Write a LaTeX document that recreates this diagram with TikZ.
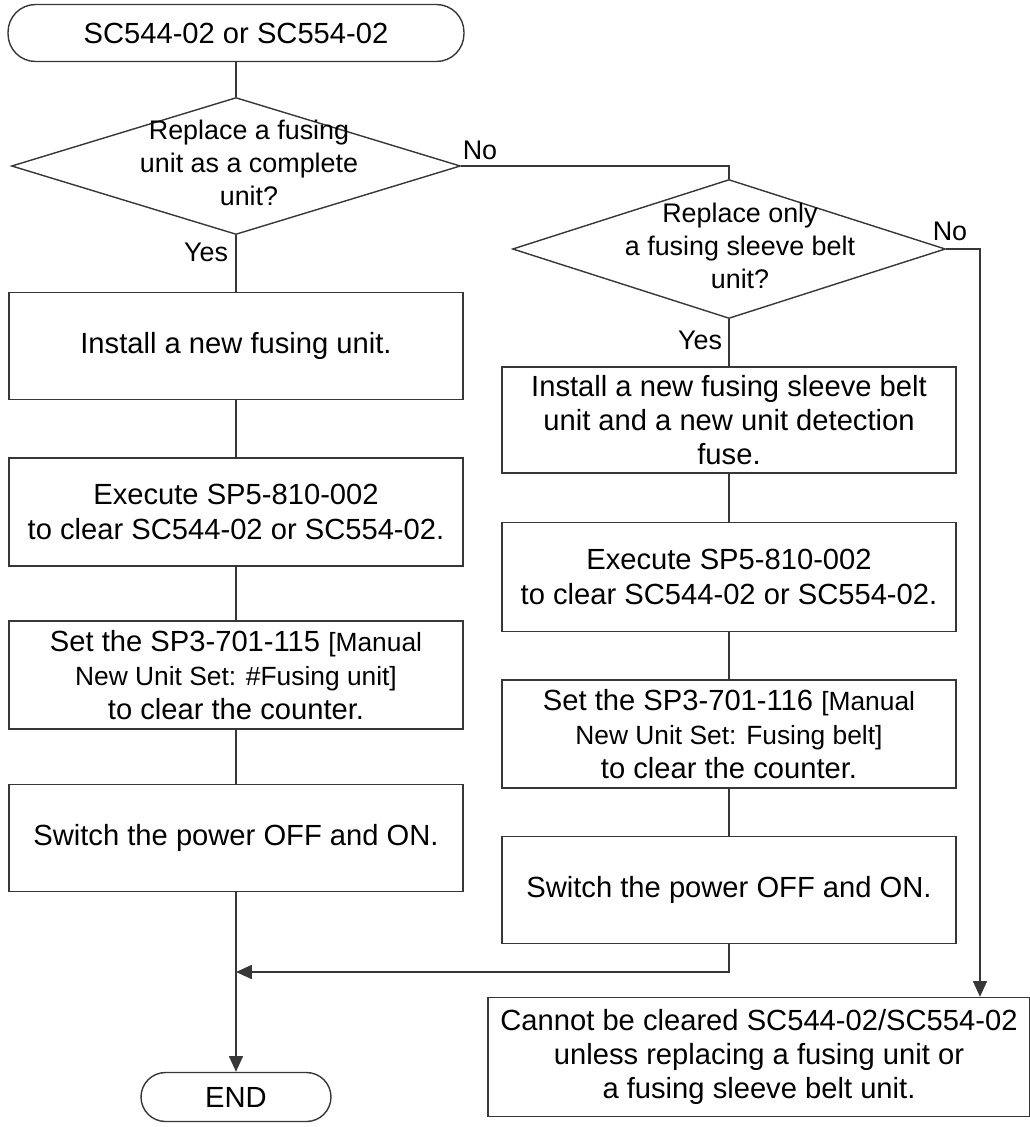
\documentclass[tikz,border=0pt]{standalone}
\usepackage{fontspec}
\setmainfont{Liberation Sans}
\usepackage{xcolor}
\usepackage{tikz}
\usetikzlibrary{shapes.geometric, arrows.meta, positioning}
\definecolor{flowline}{RGB}{55,55,55}
\newcommand{\smalltxt}[1]{{\fontsize{15}{19.5}\selectfont #1}}

\begin{document}
\begin{tikzpicture}[x=0.02cm, y=-0.02cm,
    every node/.style={font=\fontsize{16.6}{19.5}\selectfont},
    asktext/.style={align=center, font=\fontsize{15.3}{18.8}\selectfont},
    stepbox/.style={draw=flowline, line width=0.8pt, align=center, minimum width=9.08cm, minimum height=2.14cm, inner sep=2pt},
    terminal/.style={draw=flowline, line width=0.8pt, rounded corners=0.55cm, minimum height=1.14cm},
    decision/.style={draw=flowline, line width=0.8pt, diamond, inner sep=0pt},
    link/.style={draw=flowline, line width=0.8pt},
    flow/.style={link, -{Triangle[length=9pt, width=8pt]}}]
  \useasboundingbox (0,0) rectangle (1030,1127);

  % left branch
  \node[terminal, minimum width=9.12cm] (start) at (236,33) {SC544-02 or SC554-02};
  \node[decision, minimum width=8.98cm, minimum height=2.74cm] (q1) at (236,166) {};
  \node[asktext] (q1txt) at (249,163) {Replace a fusing\\unit as a complete\\unit?};
  \node[stepbox] (fuse) at (236,346) {Install a new fusing unit.};
  \node[stepbox, minimum height=2.16cm] (clearL) at (236,512) {Execute SP5-810-002\\to clear SC544-02 or SC554-02.};
  \node[stepbox, minimum height=2.16cm] (counterL) at (236,675) {Set the SP3-701-115 \smalltxt{[Manual}\\\smalltxt{New Unit Set: \#Fusing unit]}\\to clear the counter.};
  \node[stepbox] (powerL) at (236,838) {Switch the power OFF and ON.};
  \node[terminal, minimum width=3.8cm, minimum height=0.98cm, rounded corners=0.49cm] (finish) at (236,1097) {END};

  % right branch
  \node[decision, minimum width=8.66cm, minimum height=2.78cm] (q2) at (729,249) {};
  \node[asktext] (q2txt) at (740,246) {Replace only\\a fusing sleeve belt\\unit?};
  \node[stepbox, minimum height=2.12cm] (belt) at (729,420) {Install a new fusing sleeve belt\\unit and a new unit detection\\fuse.};
  \node[stepbox, minimum height=2.18cm] (clearR) at (729,577) {Execute SP5-810-002\\to clear SC544-02 or SC554-02.};
  \node[stepbox, minimum height=2.16cm] (counterR) at (729,734) {Set the SP3-701-116 \smalltxt{[Manual}\\\smalltxt{New Unit Set: Fusing belt]}\\to clear the counter.};
  \node[stepbox] (powerR) at (729,890) {Switch the power OFF and ON.};
  \node[stepbox, minimum width=10.84cm, minimum height=2.38cm] (note) at (759,1057) {Cannot be cleared SC544-02/SC554-02\\unless replacing a fusing unit or\\a fusing sleeve belt unit.};

  % labels
  \node[font=\fontsize{15.3}{18}\selectfont] (no1) at (480,150) {No};
  \node[font=\fontsize{15.3}{18}\selectfont] (yes1) at (206,252) {Yes};
  \node[font=\fontsize{15.3}{18}\selectfont] (no2) at (950,231) {No};
  \node[font=\fontsize{15.3}{18}\selectfont] (yes2) at (700,340) {Yes};

  % connectors
  \draw[link] (start) -- (q1);
  \draw[link] (q1.south) -- (fuse);
  \draw[link] (fuse) -- (clearL);
  \draw[link] (clearL) -- (counterL);
  \draw[link] (counterL) -- (powerL);
  \draw[flow] (powerL) -- (finish);
  \draw[link] (q1.east) -| (q2.north);
  \draw[link] (q2.south) -- (belt);
  \draw[link] (belt) -- (clearR);
  \draw[link] (clearR) -- (counterR);
  \draw[link] (counterR) -- (powerR);
  \coordinate (merge) at (236,972);
  \draw[flow] (powerR.south) |- (merge);
  \coordinate (q2turn) at (980,249);
  \draw[flow] (q2.east) -- (q2turn) -- (q2turn |- note.north);
\end{tikzpicture}
\end{document}
